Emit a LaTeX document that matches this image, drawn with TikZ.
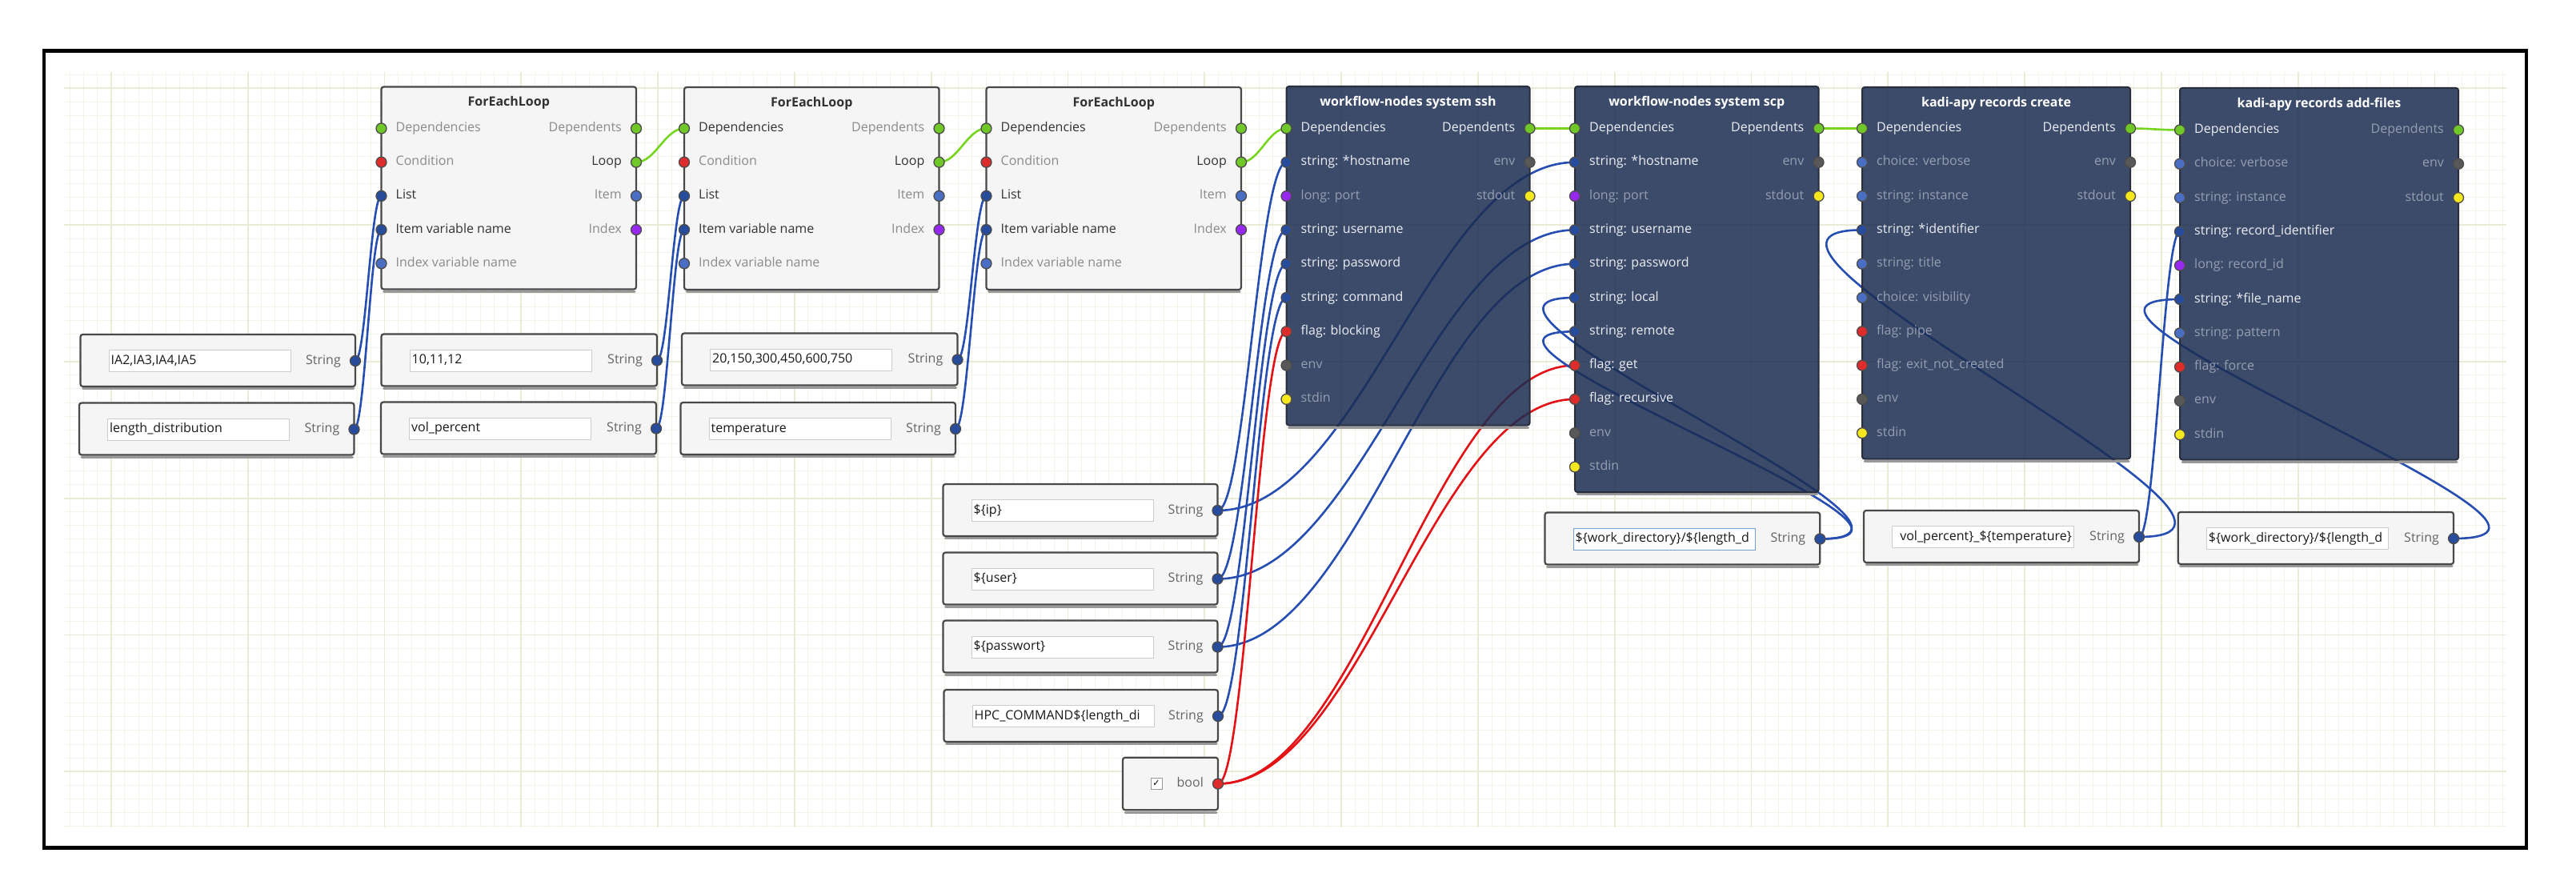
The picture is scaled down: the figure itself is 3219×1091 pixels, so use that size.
\documentclass[tikz,border=0pt]{standalone}
\usepackage{fontspec}
\setmainfont{Open Sans}
\newfontfamily\symf{DejaVu Sans}
\usetikzlibrary{calc}
\pgfdeclarelayer{bg}
\pgfdeclarelayer{wires}
\pgfsetlayers{bg,wires,main}

\definecolor{gridminor}{RGB}{243,244,231}
\definecolor{gridmajor}{RGB}{233,235,215}
\definecolor{lightfill}{RGB}{245,245,245}
\definecolor{boxborder}{RGB}{72,72,72}
\definecolor{darkfill}{RGB}{26,44,81}
\definecolor{darkborder}{RGB}{40,46,60}
\definecolor{txtdark}{RGB}{50,50,50}
\definecolor{txtgray}{RGB}{138,138,138}
\definecolor{txtbright}{RGB}{236,238,244}
\definecolor{txtdim}{RGB}{150,158,178}
\definecolor{txtstr}{RGB}{100,100,100}
\definecolor{pgreen}{RGB}{112,200,40}
\definecolor{pred}{RGB}{222,44,44}
\definecolor{pblue}{RGB}{40,76,156}
\definecolor{pbluel}{RGB}{74,110,196}
\definecolor{ppurple}{RGB}{150,40,240}
\definecolor{pgray}{RGB}{88,88,88}
\definecolor{pyellow}{RGB}{246,232,30}
\definecolor{wgreen}{RGB}{118,214,30}
\definecolor{wblue}{RGB}{38,78,178}
\definecolor{wred}{RGB}{228,18,22}
\definecolor{fieldgray}{RGB}{205,205,205}
\definecolor{fieldblue}{RGB}{110,160,215}

\tikzset{
 lbox/.style={draw=boxborder, fill=lightfill, line width=2.2pt, rounded corners=3pt, inner sep=0pt, outer sep=0pt},
 dbox/.style={draw=darkborder, fill=darkfill, fill opacity=.85, line width=2pt, rounded corners=3pt, inner sep=0pt, outer sep=0pt},
 shadowline/.style={line width=3pt, draw=black!40, line cap=round},
 port/.style={circle, draw=black!70, line width=1.3pt, minimum size=13pt, inner sep=0pt},
 lab/.style={font=\fontsize{16}{19}\selectfont, inner sep=0pt, text height=11.5pt, text depth=3.5pt},
 ttl/.style={font=\fontsize{16}{19}\selectfont\bfseries, inner sep=0pt, text height=11.5pt, text depth=3.5pt},
 field/.style={fill=white, line width=1pt, inner sep=0pt},
 ftxt/.style={font=\fontsize{16}{19}\selectfont, text=black!90, inner ysep=0pt, inner xsep=3pt, text height=11.5pt, text depth=3.5pt},
 gminor/.style={draw=gridminor, line width=1pt},
 gmajor/.style={draw=gridmajor, line width=1.8pt},
 wire/.style={line width=2.6pt},
 gw/.style={wire, draw=wgreen},
 bw/.style={wire, draw=wblue},
 rw/.style={wire, draw=wred},
 frame/.style={draw=black, line width=4.5pt},
}

% left / right port with label: name, x, y, dot colour, label, text colour
\newcommand\lin[6]{%
 \node[port, fill=#4] (#1) at (#2,#3) {};
 \node[lab, text=#6, anchor=west] (#1-l) at (#2+18,#3) {#5};}
\newcommand\rin[6]{%
 \node[port, fill=#4] (#1) at (#2,#3) {};
 \node[lab, text=#6, anchor=east] (#1-l) at (#2-18,#3) {#5};}

% block: name, style, x, y, w, h, title, title colour
\newcommand\blk[8]{%
 \draw[shadowline] (#3+3,#4+#6+2.5) -- (#3+#5-2,#4+#6+2.5);
 \node[#2, anchor=north west, minimum width=#5pt, minimum height=#6pt] (#1) at (#3,#4) {};
 \node[ttl, text=#8] (#1-t) at (#3+#5/2,#4+20.5) {#7};}

% ForEachLoop: name, x, y, colour of Dependencies label
\newcommand\feloop[4]{%
 \blk{#1}{lbox}{#2}{#3}{318.5}{253}{ForEachLoop}{txtdark}
 \lin{#1-dep}{#2}{160.5}{pgreen}{Dependencies}{#4}
 \lin{#1-cond}{#2}{202.7}{pred}{Condition}{txtgray}
 \lin{#1-list}{#2}{244.9}{pblue}{List}{txtdark}
 \lin{#1-ivar}{#2}{287.1}{pblue}{Item variable name}{txtdark}
 \lin{#1-xvar}{#2}{329.3}{pbluel}{Index variable name}{txtgray}
 \rin{#1-dents}{#2+318.5}{160.5}{pgreen}{Dependents}{txtgray}
 \rin{#1-loop}{#2+318.5}{202.7}{pgreen}{Loop}{txtdark}
 \rin{#1-item}{#2+318.5}{244.9}{pbluel}{Item}{txtgray}
 \rin{#1-idx}{#2+318.5}{287.1}{ppurple}{Index}{txtgray}}

% input box: name, x, y, w, text, text anchor, field border
\newcommand\inbox[7]{%
 \draw[shadowline] (#2+3,#3+67.5) -- (#2+#4-2,#3+67.5);
 \node[lbox, anchor=north west, minimum width=#4pt, minimum height=65pt] (#1) at (#2,#3) {};
 \node[field, draw=#7, anchor=north west, minimum width=227pt, minimum height=27pt] (#1-f) at (#2+35,#3+19) {};
 \begin{scope}
  \clip (#1-f.south west) rectangle (#1-f.north east);
  \node[ftxt, anchor=#6] (#1-v) at (#1-f.#6) {#5};
 \end{scope}
 \node[lab, text=txtstr, anchor=east] (#1-s) at (#2+#4-18,#3+33) {String};
 \node[port, fill=pblue] (#1-p) at (#2+#4,#3+33) {};}

% connector: style, from, to
\newcommand\wire[3]{%
 \draw[#1] let \p1=(#2.center), \p2=(#3.center),
   \n1={ifthenelse(\x2<\x1,0.7,0.4)*abs(\x2-\x1)} in
   (\p1) .. controls (\x1+\n1,\y1) and (\x2-\n1,\y2) .. (\p2);}

\begin{document}
\begin{tikzpicture}[x=1pt,y=-1pt]
\useasboundingbox (0,0) rectangle (3219,1091);

\begin{pgfonlayer}{bg}
 \fill[white] (55,63.5) rectangle (3157,1059.5);
 \foreach \i in {0,...,178}{\draw[gminor] ({87.66+17.08*\i},90) -- ({87.66+17.08*\i},1034);}
 \foreach \i in {0,...,55}{\draw[gminor] (80,{93.1+17.08*\i}) -- (3132,{93.1+17.08*\i});}
 \foreach \i in {0,...,17}{\draw[gmajor] ({138.9+170.8*\i},90) -- ({138.9+170.8*\i},1034);}
 \foreach \i in {0,...,5}{\draw[gmajor] (80,{110.2+170.8*\i}) -- (3132,{110.2+170.8*\i});}
\end{pgfonlayer}

% ---------- ForEachLoop blocks
\feloop{fe1}{476.5}{108.5}{txtgray}
\feloop{fe2}{855}{109}{txtdark}
\feloop{fe3}{1232.5}{109}{txtdark}

% ---------- workflow-nodes system ssh
\blk{ssh}{dbox}{1607.5}{108}{304}{423.5}{workflow-nodes system ssh}{white}
\lin{ssh-dep}{1607.5}{160.5}{pgreen}{Dependencies}{txtbright}
\lin{ssh-host}{1607.5}{202.8}{pblue}{string: *hostname}{txtbright}
\lin{ssh-port}{1607.5}{245.1}{ppurple}{long: port}{txtdim}
\lin{ssh-user}{1607.5}{287.4}{pblue}{string: username}{txtbright}
\lin{ssh-pass}{1607.5}{329.7}{pblue}{string: password}{txtbright}
\lin{ssh-cmd}{1607.5}{372.0}{pblue}{string: command}{txtbright}
\lin{ssh-block}{1607.5}{414.3}{pred}{flag: blocking}{txtbright}
\lin{ssh-env}{1607.5}{456.6}{pgray}{env}{txtdim}
\lin{ssh-stdin}{1607.5}{498.9}{pyellow}{stdin}{txtdim}
\rin{ssh-dents}{1911.5}{160.5}{pgreen}{Dependents}{txtbright}
\rin{ssh-oenv}{1911.5}{202.8}{pgray}{env}{txtdim}
\rin{ssh-out}{1911.5}{245.1}{pyellow}{stdout}{txtdim}

% ---------- workflow-nodes system scp
\blk{scp}{dbox}{1968}{108}{304.5}{507}{workflow-nodes system scp}{white}
\lin{scp-dep}{1968}{160.5}{pgreen}{Dependencies}{txtbright}
\lin{scp-host}{1968}{202.8}{pblue}{string: *hostname}{txtbright}
\lin{scp-port}{1968}{245.1}{ppurple}{long: port}{txtdim}
\lin{scp-user}{1968}{287.4}{pblue}{string: username}{txtbright}
\lin{scp-pass}{1968}{329.7}{pblue}{string: password}{txtbright}
\lin{scp-local}{1968}{372.0}{pblue}{string: local}{txtbright}
\lin{scp-remote}{1968}{414.3}{pblue}{string: remote}{txtbright}
\lin{scp-get}{1968}{456.6}{pred}{flag: get}{txtbright}
\lin{scp-rec}{1968}{498.9}{pred}{flag: recursive}{txtbright}
\lin{scp-env}{1968}{541.2}{pgray}{env}{txtdim}
\lin{scp-stdin}{1968}{583.5}{pyellow}{stdin}{txtdim}
\rin{scp-dents}{2272.5}{160.5}{pgreen}{Dependents}{txtbright}
\rin{scp-oenv}{2272.5}{202.8}{pgray}{env}{txtdim}
\rin{scp-out}{2272.5}{245.1}{pyellow}{stdout}{txtdim}

% ---------- kadi-apy records create
\blk{cr}{dbox}{2327}{109}{335}{464.5}{kadi-apy records create}{white}
\lin{cr-dep}{2327}{160.5}{pgreen}{Dependencies}{txtbright}
\lin{cr-verb}{2327}{202.8}{pbluel}{choice: verbose}{txtdim}
\lin{cr-inst}{2327}{245.1}{pbluel}{string: instance}{txtdim}
\lin{cr-id}{2327}{287.4}{pblue}{string: *identifier}{txtbright}
\lin{cr-title}{2327}{329.7}{pbluel}{string: title}{txtdim}
\lin{cr-vis}{2327}{372.0}{pbluel}{choice: visibility}{txtdim}
\lin{cr-pipe}{2327}{414.3}{pred}{flag: pipe}{txtdim}
\lin{cr-exit}{2327}{456.6}{pred}{flag: exit\_not\_created}{txtdim}
\lin{cr-env}{2327}{498.9}{pgray}{env}{txtdim}
\lin{cr-stdin}{2327}{541.2}{pyellow}{stdin}{txtdim}
\rin{cr-dents}{2662}{160.5}{pgreen}{Dependents}{txtbright}
\rin{cr-oenv}{2662}{202.8}{pgray}{env}{txtdim}
\rin{cr-out}{2662}{245.1}{pyellow}{stdout}{txtdim}

% ---------- kadi-apy records add-files
\blk{af}{dbox}{2724}{110}{348}{464.5}{kadi-apy records add-files}{white}
\lin{af-dep}{2724}{162.5}{pgreen}{Dependencies}{txtbright}
\lin{af-verb}{2724}{204.8}{pbluel}{choice: verbose}{txtdim}
\lin{af-inst}{2724}{247.1}{pbluel}{string: instance}{txtdim}
\lin{af-rid}{2724}{289.4}{pblue}{string: record\_identifier}{txtbright}
\lin{af-recid}{2724}{331.7}{ppurple}{long: record\_id}{txtdim}
\lin{af-file}{2724}{374.0}{pblue}{string: *file\_name}{txtbright}
\lin{af-pat}{2724}{416.3}{pbluel}{string: pattern}{txtdim}
\lin{af-force}{2724}{458.6}{pred}{flag: force}{txtdim}
\lin{af-env}{2724}{500.9}{pgray}{env}{txtdim}
\lin{af-stdin}{2724}{543.2}{pyellow}{stdin}{txtdim}
\rin{af-dents}{3072}{162.5}{pgreen}{Dependents}{txtdim}
\rin{af-oenv}{3072}{204.8}{pgray}{env}{txtdim}
\rin{af-out}{3072}{247.1}{pyellow}{stdout}{txtdim}

% ---------- input boxes
\inbox{inA}{100.5}{418}{343.5}{IA2,IA3,IA4,IA5}{west}{fieldgray}
\inbox{inB}{99}{503.5}{343.5}{length\_distribution}{west}{fieldgray}
\inbox{inC}{476.5}{417.5}{344.5}{10,11,12}{west}{fieldgray}
\inbox{inD}{476}{502.5}{344}{vol\_percent}{west}{fieldgray}
\inbox{inE}{852}{416.5}{344.5}{20,150,300,450,600,750}{west}{fieldgray}
\inbox{inF}{850.5}{503}{343.5}{temperature}{west}{fieldgray}
\inbox{inG}{1178.5}{605}{343}{\$\{ip\}}{west}{fieldgray}
\inbox{inH}{1178.5}{690.5}{343}{\$\{user\}}{west}{fieldgray}
\inbox{inI}{1178.5}{775.5}{343}{\$\{passwort\}}{west}{fieldgray}
\inbox{inJ}{1179.5}{862}{342.5}{HPC\_COMMAND\$\{length\_di}{west}{fieldgray}
\inbox{inL}{1930.5}{640.5}{343.8}{\$\{work\_directory\}/\$\{length\_d}{west}{fieldblue}
\inbox{inM}{2329}{638}{344}{vol\_percent\}\_\$\{temperature\}}{east}{fieldgray}
\inbox{inN}{2721.7}{640}{344.3}{\$\{work\_directory\}/\$\{length\_d}{west}{fieldgray}

% ---------- bool box
\draw[shadowline] (1406,1015) -- (1520,1015);
\node[lbox, anchor=north west, minimum width=119pt, minimum height=65.5pt] (inK) at (1403,946.7) {};
\node[draw=black!40, fill=white, line width=1pt, minimum width=14pt, minimum height=14pt, inner sep=0pt] (inK-cb) at (1445,979.5) {};
\node[font=\symf\fontsize{11}{12}\selectfont, inner sep=0pt] (inK-ck) at (inK-cb) {✓};
\node[lab, text=txtstr, anchor=east] (inK-s) at (1504,979.5) {bool};
\node[port, fill=pred] (inK-p) at (1522,979.5) {};

% ---------- connectors
\begin{pgfonlayer}{wires}
\wire{gw}{fe1-loop}{fe2-dep}
\wire{gw}{fe2-loop}{fe3-dep}
\wire{gw}{fe3-loop}{ssh-dep}
\wire{gw}{ssh-dents}{scp-dep}
\wire{gw}{scp-dents}{cr-dep}
\wire{gw}{cr-dents}{af-dep}
\wire{bw}{inA-p}{fe1-list}
\wire{bw}{inB-p}{fe1-ivar}
\wire{bw}{inC-p}{fe2-list}
\wire{bw}{inD-p}{fe2-ivar}
\wire{bw}{inE-p}{fe3-list}
\wire{bw}{inF-p}{fe3-ivar}
\wire{bw}{inG-p}{ssh-host}
\wire{bw}{inG-p}{scp-host}
\wire{bw}{inH-p}{ssh-user}
\wire{bw}{inH-p}{scp-user}
\wire{bw}{inI-p}{ssh-pass}
\wire{bw}{inI-p}{scp-pass}
\wire{bw}{inJ-p}{ssh-cmd}
\wire{rw}{inK-p}{ssh-block}
\wire{rw}{inK-p}{scp-get}
\wire{rw}{inK-p}{scp-rec}
\wire{bw}{inL-p}{scp-local}
\wire{bw}{inL-p}{scp-remote}
\wire{bw}{inM-p}{cr-id}
\wire{bw}{inM-p}{af-rid}
\wire{bw}{inN-p}{af-file}
\end{pgfonlayer}

\draw[frame] (55,63.5) rectangle (3157,1059.5);
\end{tikzpicture}
\end{document}
